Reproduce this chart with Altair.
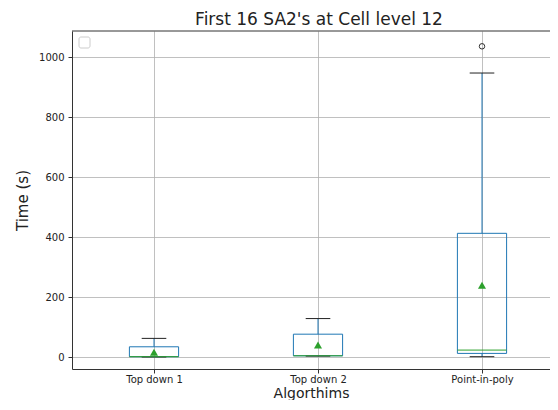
import json
import altair as alt
import pandas as pd

# ---- data ----
algorithms = ["Top down 1", "Top down 2", "Point-in-poly"]
positions = [1, 2, 3]
whisker_low = [1, 4, 2]
q1 = [2, 5, 13]
median = [2, 5, 24]
q3 = [35, 77, 413]
whisker_high = [63, 129, 947]
means = [17, 41, 240]
outlier_pos = [3]
outlier_values = [1036]
y_ticks = [0, 200, 400, 600, 800, 1000]

box_half = 0.15
cap_half = 0.075
W, H = 478, 338

df = pd.DataFrame({
    "algorithm": algorithms,
    "pos": positions,
    "low": whisker_low,
    "q1": q1,
    "median": median,
    "q3": q3,
    "high": whisker_high,
    "mean": means,
})
out_df = pd.DataFrame({"pos": outlier_pos, "value": outlier_values})

label_expr = json.dumps([""] + algorithms) + "[datum.value]"

xscale = alt.Scale(domain=[0.5, 0.5 + W / 164], nice=False, zero=False)
yscale = alt.Scale(domain=[-39, 1087], nice=False, zero=False)

x_axis = alt.Axis(values=positions, labelExpr=label_expr, title="Algorthims",
                  labelPadding=1, titlePadding=2, titleFontSize=14)
y_axis = alt.Axis(values=y_ticks, format="d", title="Time (s)",
                  labelPadding=4, titlePadding=8)

base = alt.Chart(df).transform_calculate(
    box_lo=f"datum.pos - {box_half}",
    box_hi=f"datum.pos + {box_half}",
    cap_lo=f"datum.pos - {cap_half}",
    cap_hi=f"datum.pos + {cap_half}",
)

X = alt.X("pos:Q", scale=xscale, axis=x_axis)
Y = lambda f: alt.Y(f"{f}:Q", scale=yscale, axis=y_axis)

whisk_up = base.mark_rule(color="#1f77b4", strokeWidth=1).encode(
    x=X, y=Y("q3"), y2="high:Q")
whisk_dn = base.mark_rule(color="#1f77b4", strokeWidth=1).encode(
    x=X, y=Y("low"), y2="q1:Q")
box = base.mark_rect(fill="transparent", stroke="#1f77b4", strokeWidth=1).encode(
    x=alt.X("box_lo:Q", scale=xscale, axis=x_axis), x2="box_hi:Q",
    y=Y("q1"), y2="q3:Q")
cap_hi = base.mark_rule(color="#222222", strokeWidth=1).encode(
    x=alt.X("cap_lo:Q", scale=xscale, axis=x_axis), x2="cap_hi:Q", y=Y("high"))
cap_lo = base.mark_rule(color="#222222", strokeWidth=1).encode(
    x=alt.X("cap_lo:Q", scale=xscale, axis=x_axis), x2="cap_hi:Q", y=Y("low"))
med = base.mark_rule(color="#2ca02c", strokeWidth=1).encode(
    x=alt.X("box_lo:Q", scale=xscale, axis=x_axis), x2="box_hi:Q", y=Y("median"))
mean_pts = base.mark_point(shape="triangle-up", filled=True, color="#2ca02c",
                           size=65, opacity=1).encode(x=X, y=Y("mean"))
outliers = alt.Chart(out_df).mark_point(shape="circle", filled=False, color="#333333",
                                        size=30, strokeWidth=1, opacity=1).encode(
    x=alt.X("pos:Q", scale=xscale, axis=x_axis),
    y=alt.Y("value:Q", scale=yscale, axis=y_axis))

frame = alt.Chart(alt.Data(values=[{}]))
top_spine = frame.mark_rule(color="#333333", strokeWidth=1).encode(
    x=alt.value(0), x2=alt.value(W), y=alt.value(0))
legend_box = frame.mark_rect(
    fill="white", stroke="#cccccc", strokeWidth=1, cornerRadius=2).encode(
    x=alt.value(7), x2=alt.value(18), y=alt.value(6), y2=alt.value(17))

chart = alt.layer(
    whisk_up, whisk_dn, box, cap_hi, cap_lo, med, mean_pts, outliers,
    top_spine, legend_box
).properties(
    width=W,
    height=H,
    title=alt.TitleParams("First 16 SA2's at Cell level 12", fontSize=17,
                          font="DejaVu Sans", fontWeight="normal", color="#222222",
                          anchor="middle", offset=2, dx=8),
    autosize=alt.AutoSizeParams(type="none"),
    padding={"left": 64, "top": 23, "right": 0, "bottom": 31},
).configure_axis(
    grid=True,
    gridColor="#b0b0b0",
    gridWidth=0.8,
    domain=True,
    domainColor="#333333",
    domainWidth=1,
    tickColor="#333333",
    tickSize=4,
    labelFont="DejaVu Sans",
    labelFontSize=10,
    labelColor="#222222",
    titleFont="DejaVu Sans",
    titleFontSize=15,
    titleFontWeight="normal",
    titleColor="#222222",
).configure_view(
    stroke=None,
)

chart.save("out.html", embed_options={"renderer": "svg", "actions": False})
